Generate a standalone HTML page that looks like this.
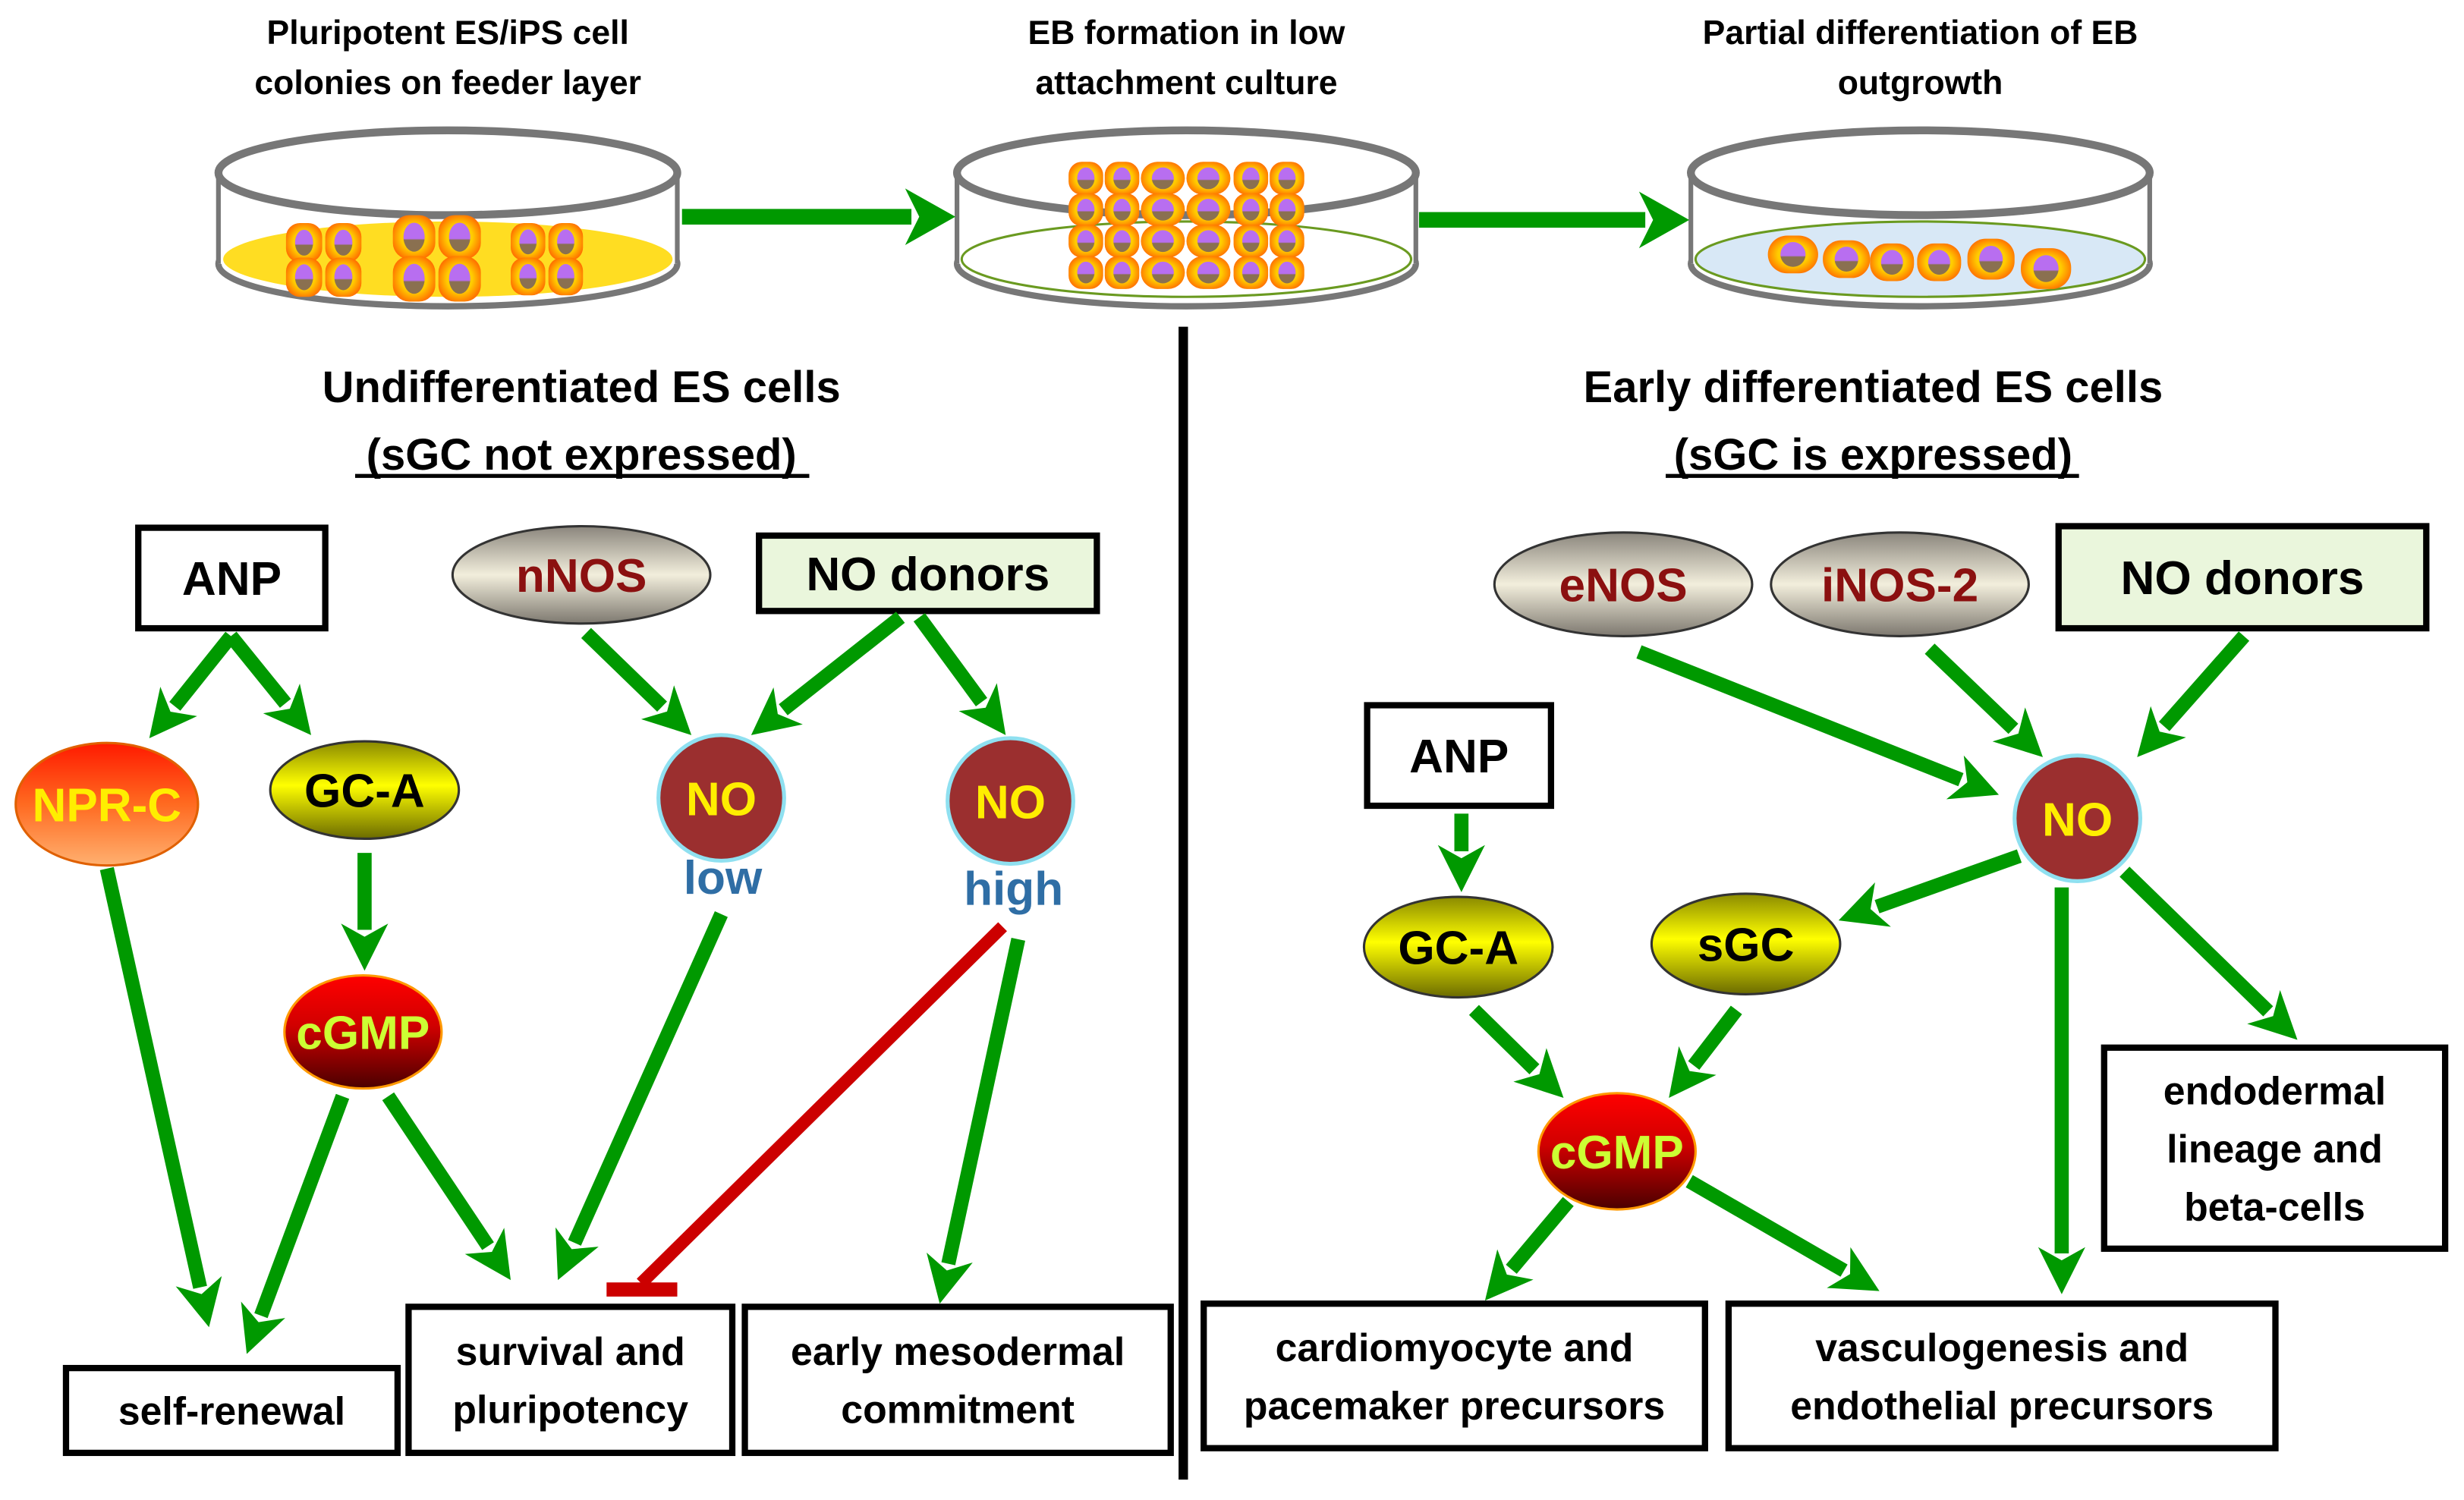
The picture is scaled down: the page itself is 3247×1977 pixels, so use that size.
<!DOCTYPE html>
<html><head><meta charset="utf-8">
<style>
html,body{margin:0;padding:0;background:#fff;}
svg{display:block;}
text{font-family:"Liberation Sans","DejaVu Sans",sans-serif;font-weight:bold;text-anchor:middle;}
</style></head>
<body>
<svg id="s" width="3247" height="1977" viewBox="0 0 1568 955" preserveAspectRatio="none" xmlns="http://www.w3.org/2000/svg">
<defs>
<linearGradient id="gGray" x1="0" y1="0" x2="0" y2="1"><stop offset="0" stop-color="#8a857c"/><stop offset="0.5" stop-color="#f2eedc"/><stop offset="1" stop-color="#7d786f"/></linearGradient>
<linearGradient id="gYel" x1="0" y1="0" x2="0" y2="1"><stop offset="0" stop-color="#8a8a00"/><stop offset="0.45" stop-color="#ffff00"/><stop offset="1" stop-color="#6b6b00"/></linearGradient>
<linearGradient id="gRed" x1="0" y1="0" x2="0" y2="1"><stop offset="0" stop-color="#ff0000"/><stop offset="0.45" stop-color="#d00000"/><stop offset="1" stop-color="#4a0000"/></linearGradient>
<linearGradient id="gNpr" x1="0" y1="0" x2="0" y2="1"><stop offset="0" stop-color="#ff1a00"/><stop offset="0.5" stop-color="#ff6a20"/><stop offset="1" stop-color="#ffb070"/></linearGradient>
<radialGradient id="gCell" cx="0.5" cy="0.5" r="0.6"><stop offset="0.5" stop-color="#ffcc00"/><stop offset="1" stop-color="#ff5a00"/></radialGradient>
<linearGradient id="gNuc" x1="0" y1="0" x2="0" y2="1"><stop offset="0.55" stop-color="#b86ef0"/><stop offset="0.6" stop-color="#8a7050"/></linearGradient>
</defs>
<g id="g"></g>
</svg>
<script>
const NS="http://www.w3.org/2000/svg";
const G=document.getElementById('g');
function el(t,a,txt){const e=document.createElementNS(NS,t);for(const k in a)e.setAttribute(k,a[k]);if(txt!==undefined)e.textContent=txt;G.appendChild(e);return e;}
function text(x,y,s,size,fill,extra){const a={x:x,y:y,'font-size':size,fill:fill||'#000'};Object.assign(a,extra||{});return el('text',a,s);}
function cell(x,y,w,h){el('rect',{x:x,y:y,width:w,height:h,rx:w/2.6,fill:'url(#gCell)'});el('ellipse',{cx:x+w/2,cy:y+h/2,rx:w*0.25,ry:h*0.33,fill:'url(#gNuc)'});}
function dish(x,fill,liquidStroke){
 const cx=x+147;
 el('ellipse',{cx:cx,cy:168,rx:146,ry:27,fill:'#fff',stroke:'#777',"stroke-width":4});
 el('rect',{x:x+1,y:110,width:292,height:58,fill:'#fff'});
 if(fill){el('ellipse',{cx:cx,cy:165,rx:143,ry:24,fill:fill,stroke:liquidStroke||'none','stroke-width':1.5});}
 el('line',{x1:x+1,y1:110,x2:x+1,y2:168,stroke:'#777','stroke-width':3});
 el('line',{x1:x+293,y1:110,x2:x+293,y2:168,stroke:'#777','stroke-width':3});
 el('ellipse',{cx:cx,cy:110,rx:146,ry:27,fill:'none',stroke:'#777','stroke-width':5});
}
text(285,28,'Pluripotent ES/iPS cell',21.5);text(285,60,'colonies  on feeder layer',21.5);
text(755,28,'EB formation in low',21.5);text(755,60,'attachment culture',21.5);
text(1222,28,'Partial differentiation of EB',21.5);text(1222,60,'outgrowth',21.5);
dish(138,'#ffdd22');
for(const [x,y,w,h] of [[182,142,23,25],[207,142,23,25],[182,164,23,25],[207,164,23,25],[250,137,27,28],[279,137,27,28],[250,163,27,29],[279,163,27,29],[325,142,22,24],[349,142,22,24],[325,164,22,24],[349,164,22,24]])cell(x,y,w,h);
dish(608,'#fff','#6a9a20');
{const xs=[680,703,726,755,785,808],ws=[22,22,28,28,22,22];for(let r=0;r<4;r++)for(let i=0;i<6;i++)cell(xs[i],103+r*20,ws[i],21);}
dish(1075,'#d8e8f6','#6a9a20');
for(const [x,y,w,h] of [[1125,150,32,24],[1160,153,30,24],[1190,155,28,24],[1220,155,28,24],[1252,152,30,26],[1286,158,32,26]])cell(x,y,w,h);
function arrow(x1,y1,x2,y2,w,hl,hw,col){
 col=col||'#009900';const dx=x2-x1,dy=y2-y1,L=Math.hypot(dx,dy),ux=dx/L,uy=dy/L,px=-uy,py=ux;
 const bx=x2-ux*hl,by=y2-uy*hl;
 el('line',{x1:x1,y1:y1,x2:bx+ux*4,y2:by+uy*4,stroke:col,'stroke-width':w});
 const nx=x2-ux*hl*0.72,ny=y2-uy*hl*0.72;
 el('polygon',{points:`${x2},${y2} ${bx+px*hw/2},${by+py*hw/2} ${nx},${ny} ${bx-px*hw/2},${by-py*hw/2}`,fill:col});
}
arrow(434,138,608,138,10,32,36);arrow(903,140,1075,140,10,32,36);
el('line',{x1:753,y1:208,x2:753,y2:942,stroke:'#000','stroke-width':6});
text(370,256,'Undifferentiated ES cells',28);
text(370,299,'(sGC not expressed)',28);el('line',{x1:226,y1:303,x2:515,y2:303,stroke:'#000','stroke-width':2.5});
text(1192,256,'Early differentiated ES cells',28);
text(1192,299,'(sGC is expressed)',28);el('line',{x1:1060,y1:303,x2:1323,y2:303,stroke:'#000','stroke-width':2.5});
function box(x,y,w,h,fill,lines,size,lh){el('rect',{x:x,y:y,width:w,height:h,fill:fill||'#fff',stroke:'#000','stroke-width':4});const n=lines.length;const cy=y+h/2;lines.forEach((s,i)=>text(x+w/2,cy+(i-(n-1)/2)*lh+size*0.36,s,size));}
function ell(cx,cy,rx,ry,fill,s,size,col,stroke){el('ellipse',{cx:cx,cy:cy,rx:rx,ry:ry,fill:fill,stroke:stroke||'#333','stroke-width':1.5});text(cx,cy+size*0.36,s,size,col);}
box(88,336,119,64,'#fff',['ANP'],30,0);
ell(370,366,82,31,'url(#gGray)','nNOS',30,'#8b1010');
box(483,341,215,48,'#eaf6dc',['NO donors'],30,0);
ell(68,512,58,39,'url(#gNpr)','NPR-C',30,'#ffee00','#e06000');
ell(232,503,60,31,'url(#gYel)','GC-A',30,'#000');
function no(cx,cy){el('circle',{cx:cx,cy:cy,r:40,fill:'#9b2f2f',stroke:'#8fe0f0','stroke-width':2.5});text(cx,cy+11,'NO',30,'#ffee00');}
no(459,508);text(460,569,'low',30,'#2f6ea5');
no(643,510);text(645,576,'high',30,'#2f6ea5');
ell(231,657,50,36,'url(#gRed)','cGMP',30,'#ccff33','#ff9900');
box(42,871,211,54,'#fff',['self-renewal'],25,0);
box(260,832,206,93,'#fff',['survival and','pluripotency'],25,37);
box(474,832,271,93,'#fff',['early mesodermal','commitment'],25,37);
arrow(147,405,95,470,9,30,30);arrow(147,405,198,468,9,30,30);
arrow(232,543,232,618,9,30,30);arrow(373,403,440,468,9,30,30);
arrow(573,393,478,468,9,30,30);arrow(585,393,640,468,9,30,30);
arrow(68,553,133,845,9,30,30);arrow(218,698,157,862,9,30,30);
arrow(247,698,325,815,9,30,30);arrow(459,582,355,815,9,30,30);
arrow(648,598,598,830,9,30,30);
el('line',{x1:638,y1:590,x2:408,y2:817,stroke:'#cc0000','stroke-width':8});
el('line',{x1:386,y1:821,x2:431,y2:821,stroke:'#cc0000','stroke-width':9});
ell(1033,372,82,33,'url(#gGray)','eNOS',30,'#8b1010');
ell(1209,372,82,33,'url(#gGray)','iNOS-2',30,'#8b1010');
box(1310,335,234,65,'#eaf6dc',['NO donors'],30,0);
box(870,449,117,64,'#fff',['ANP'],30,0);
no(1322,521);
ell(928,603,60,32,'url(#gYel)','GC-A',30,'#000');
ell(1111,601,60,32,'url(#gYel)','sGC',30,'#000');
ell(1029,733,50,37,'url(#gRed)','cGMP',30,'#ccff33','#ff9900');
box(1339,667,217,128,'#fff',['endodermal','lineage and','beta-cells'],25,37);
box(766,830,319,92,'#fff',['cardiomyocyte and','pacemaker precursors'],25,37);
box(1100,830,348,92,'#fff',['vasculogenesis and','endothelial precursors'],25,37);
arrow(1043,415,1272,506,9,30,30);arrow(1228,413,1300,482,9,30,30);
arrow(1428,405,1360,482,9,30,30);arrow(930,518,930,568,9,30,30);
arrow(1285,545,1170,586,9,30,30);arrow(1352,555,1462,662,9,30,30);
arrow(1312,565,1312,824,9,30,30);arrow(938,643,995,699,9,30,30);
arrow(1105,643,1062,699,9,30,30);arrow(998,765,945,828,9,30,30);
arrow(1075,752,1196,822,9,30,30);
</script>
</body></html>
